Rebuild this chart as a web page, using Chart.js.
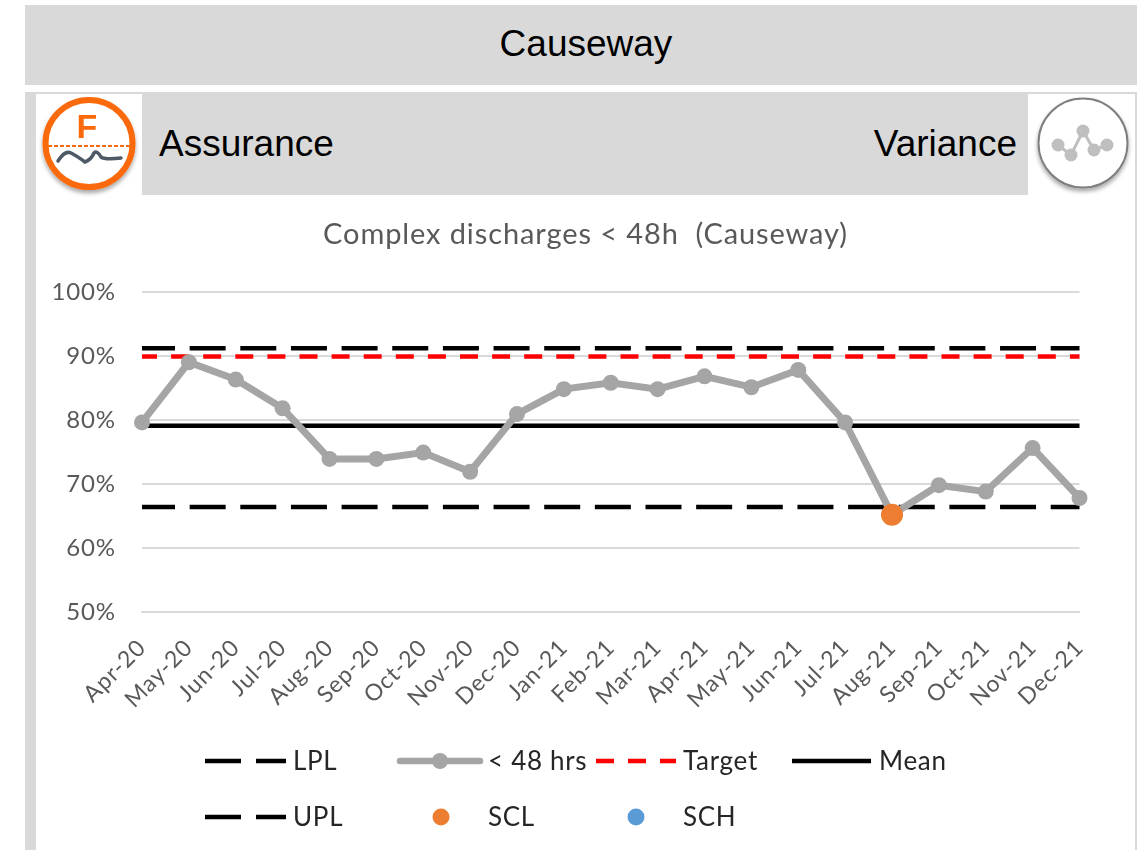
<!DOCTYPE html>
<html>
<head>
<meta charset="utf-8">
<title>Causeway</title>
<script src="https://cdn.jsdelivr.net/npm/chart.js@4"></script>
<style>
    html, body { margin: 0; padding: 0; background: #fff; }
    body { position: relative; width: 1137px; height: 850px; overflow: hidden; font-family: "Liberation Sans", Arial, sans-serif; color: #000; }
    .block { position: absolute; background: #d9d9d9; }
    .head { position: absolute; font-size: 37px; line-height: 44px; white-space: nowrap; }
    svg.icon { position: absolute; overflow: visible; filter: blur(0.5px); }
    #chart-box { position: absolute; left: 36px; top: 195px; width: 1099px; height: 655px; filter: blur(0.5px); }
</style>
</head>
<body>
<div class="block" style="left:25px;top:5px;width:1112px;height:80px"></div>
<div class="head" style="left:25px;width:1122px;top:22px;text-align:center">Causeway</div>

<!-- panel frame -->
<div class="block" style="left:25px;top:92px;width:1112px;height:2px"></div>
<div class="block" style="left:25px;top:92px;width:11px;height:758px"></div>
<div class="block" style="left:1135px;top:92px;width:2px;height:758px"></div>
<div class="block" style="left:142px;top:94px;width:886px;height:101px"></div>
<div class="head" style="left:159px;top:122px">Assurance</div>
<div class="head" style="right:120px;top:122px">Variance</div>

<svg class="icon" style="left:36px;top:94px" width="106" height="101" viewBox="36 94 106 101">
    <defs>
        <filter id="soft" x="-20%" y="-20%" width="140%" height="140%">
            <feDropShadow dx="0" dy="3" stdDeviation="2" flood-color="#000" flood-opacity="0.35"/>
        </filter>
    </defs>
    <circle cx="89" cy="143.5" r="43.5" fill="#fff" stroke="#fa6a0a" stroke-width="6" filter="url(#soft)"/>
    <text x="87" y="138" text-anchor="middle" font-family="Liberation Sans" font-weight="bold" font-size="34" fill="#fa6a0a">F</text>
    <line x1="48" y1="146" x2="130" y2="146" stroke="#fa6a0a" stroke-width="2" stroke-dasharray="4 2"/>
    <path d="M58 161 Q65 150 71 153 T85 162 Q91 160 94 153 Q97 150 101 157 Q105 160 121 158" fill="none" stroke="#4d5a66" stroke-width="3.5" stroke-linecap="round"/>
</svg>
<svg class="icon" style="left:1028px;top:94px" width="107" height="101" viewBox="1028 94 107 101">
    <circle cx="1083" cy="143" r="44.5" fill="#fff" stroke="#7f7f7f" stroke-width="2" filter="url(#soft)"/>
    <polyline points="1058,145 1071,155 1083,131 1094,150 1107,145" fill="none" stroke="#bfbfbf" stroke-width="3"/>
    <g fill="#bfbfbf">
        <circle cx="1058" cy="145" r="6.5"/><circle cx="1071" cy="155" r="6.5"/><circle cx="1083" cy="131" r="6.5"/><circle cx="1094" cy="150" r="6.5"/><circle cx="1107" cy="145" r="6.5"/>
    </g>
</svg>

<div id="chart-box"><canvas id="spcChart"></canvas></div>

<script>
// Data
const months = ['Apr-20', 'May-20', 'Jun-20', 'Jul-20', 'Aug-20', 'Sep-20', 'Oct-20', 'Nov-20', 'Dec-20', 'Jan-21', 'Feb-21', 'Mar-21', 'Apr-21', 'May-21', 'Jun-21', 'Jul-21', 'Aug-21', 'Sep-21', 'Oct-21', 'Nov-21', 'Dec-21'];
const under48 = [79.6, 89, 86.3, 81.8, 73.9, 73.9, 74.9, 71.9, 80.9, 84.8, 85.8, 84.8, 86.8, 85.1, 87.8, 79.6, 65.2, 69.8, 68.8, 75.6, 67.8];
const lplValues = Array(months.length).fill(66.4);
const uplValues = Array(months.length).fill(91.2);
const meanValues = Array(months.length).fill(79.1);
const targetValues = Array(months.length).fill(89.9);
const sclValues = [null, null, null, null, null, null, null, null, null, null, null, null, null, null, null, null, 65.2, null, null, null, null];
const schValues = months.map(() => null);

const FONT = 'Lato, "Noto Sans", sans-serif';
const TEXT_GREY = '#595959';
const GRID_GREY = '#d9d9d9';
const LINE_GREY = '#a5a5a5';

// Legend is laid out by hand to follow the two-row layout of the original
const legendRows = [
    { label: 'LPL', textX: 293, y: 761, kind: 'dash', x1: 205, x2: 286, color: '#000', dash: [36, 15] },
    { label: '< 48 hrs', textX: 488, y: 761, kind: 'marker-line', x1: 400, x2: 480, color: LINE_GREY },
    { label: 'Target', textX: 683, y: 761, kind: 'dash', x1: 596, x2: 676, color: '#ff0000', dash: [18, 14] },
    { label: 'Mean', textX: 879, y: 761, kind: 'dash', x1: 792, x2: 871, color: '#000', dash: [] },
    { label: 'UPL', textX: 293, y: 817, kind: 'dash', x1: 205, x2: 286, color: '#000', dash: [36, 15] },
    { label: 'SCL', textX: 488, y: 817, kind: 'dot', x1: 441, color: '#ed7d31' },
    { label: 'SCH', textX: 683, y: 817, kind: 'dot', x1: 636, color: '#5b9bd5' }
];

// Calibri in the original sets wider than Lato, so open the letters up a little
const wideText = {
    id: 'wideText',
    beforeDraw(chart) {
        chart.ctx.letterSpacing = '0.9px';
    }
};

const handLegend = {
    id: 'handLegend',
    afterDraw(chart) {
        const ctx = chart.ctx;
        const ox = chart.canvas.getBoundingClientRect().left;
        const oy = chart.canvas.getBoundingClientRect().top;
        ctx.save();
        legendRows.forEach(item => {
            const y = item.y - oy;
            if (item.kind === 'dot') {
                ctx.fillStyle = item.color;
                ctx.beginPath();
                ctx.arc(item.x1 - ox, y, 8.5, 0, Math.PI * 2);
                ctx.fill();
            } else {
                ctx.strokeStyle = item.color;
                ctx.lineWidth = item.kind === 'marker-line' ? 6.5 : 4.5;
                ctx.lineCap = item.kind === 'marker-line' ? 'round' : 'butt';
                ctx.setLineDash(item.dash || []);
                ctx.beginPath();
                ctx.moveTo(item.x1 - ox, y);
                ctx.lineTo(item.x2 - ox, y);
                ctx.stroke();
                ctx.setLineDash([]);
                if (item.kind === 'marker-line') {
                    ctx.fillStyle = item.color;
                    ctx.beginPath();
                    ctx.arc((item.x1 + item.x2) / 2 - ox, y, 8, 0, Math.PI * 2);
                    ctx.fill();
                }
            }
            ctx.fillStyle = '#262626';
            ctx.font = '26px ' + FONT;
            ctx.letterSpacing = '0.7px';
            ctx.textAlign = 'left';
            ctx.textBaseline = 'middle';
            ctx.fillText(item.label, item.textX - ox, y + 1);
        });
        ctx.restore();
    }
};

function flatLine(label, data, color, dash, dashOffset, order) {
    return { label, data, borderColor: color, borderWidth: 4.5, borderDash: dash, borderDashOffset: dashOffset, pointRadius: 0, fill: false, clip: false, order };
}

new Chart(document.getElementById('spcChart'), {
    type: 'line',
    data: {
        labels: months,
        datasets: [
            flatLine('LPL', lplValues, '#000', [36, 14.65], 3, 5),
            {
                label: '< 48 hrs', data: under48, borderColor: LINE_GREY, backgroundColor: LINE_GREY,
                borderWidth: 7, pointRadius: 8, pointBackgroundColor: LINE_GREY, pointBorderWidth: 0,
                tension: 0, clip: false, order: 2
            },
            flatLine('Target', targetValues, '#ff0000', [18, 14.1], 3, 4),
            flatLine('Mean', meanValues, '#000', [], 0, 4),
            flatLine('UPL', uplValues, '#000', [36, 14.65], 3, 4),
            { label: 'SCL', data: sclValues, showLine: false, pointRadius: 11, pointBorderWidth: 0, pointBackgroundColor: '#ed7d31', clip: false, order: 1 },
            { label: 'SCH', data: schValues, showLine: false, pointRadius: 11, pointBorderWidth: 0, pointBackgroundColor: '#5b9bd5', clip: false, order: 1 }
        ]
    },
    options: {
        responsive: true,
        maintainAspectRatio: false,
        animation: false,
        plugins: {
            legend: { display: false },
            tooltip: { enabled: false },
            title: {
                display: true,
                text: 'Complex discharges < 48h  (Causeway)',
                color: TEXT_GREY,
                font: { family: FONT, size: 29, weight: 'normal' },
                padding: { top: 22, bottom: 40 }
            }
        },
        scales: {
            x: {
                offset: false,
                grid: { display: false, drawTicks: true, tickLength: 10, tickColor: GRID_GREY, tickWidth: 2 },
                border: { color: GRID_GREY, width: 2 },
                ticks: { color: TEXT_GREY, font: { family: FONT, size: 23 }, maxRotation: 45, minRotation: 45, autoSkip: false, padding: 12 },
                afterFit(scale) { scale.height = 238; }
            },
            y: {
                min: 50,
                max: 100,
                grid: { color: GRID_GREY, lineWidth: 2, drawTicks: false },
                border: { display: false },
                ticks: { stepSize: 10, color: TEXT_GREY, font: { family: FONT, size: 24 }, padding: 26, callback: v => v + '%' },
                afterFit(scale) { scale.width = 106; }
            },
            // empty axis on the right only holds the gap beside the plot, so the title stays centred on the panel
            spacer: {
                position: 'right',
                grid: { display: false },
                border: { display: false },
                ticks: { display: false },
                afterFit(scale) { scale.width = 55.5; }
            }
        }
    },
    plugins: [wideText, handLegend]
});
</script>
</body>
</html>
